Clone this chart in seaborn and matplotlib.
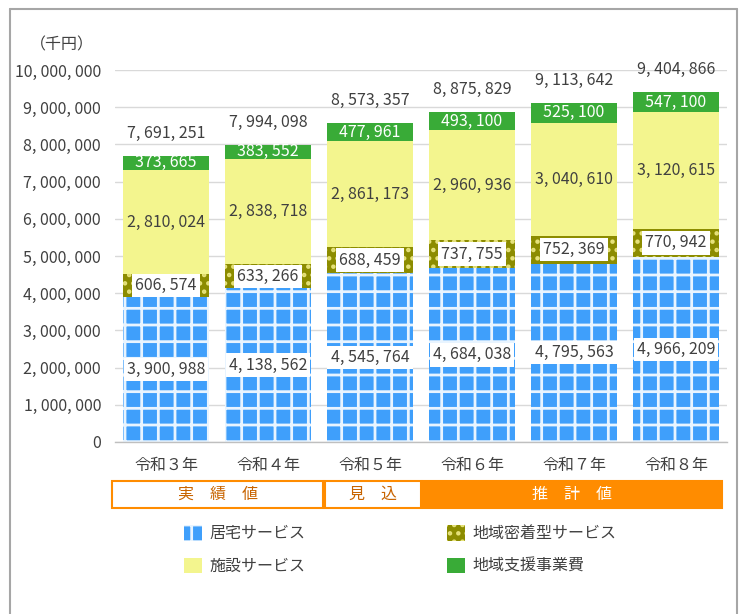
import matplotlib
matplotlib.use("Agg")
import matplotlib.pyplot as plt
from matplotlib.patches import Patch, Rectangle
from matplotlib.lines import Line2D
import numpy as np
import pandas as pd
import seaborn as sns

years = ["令和３年", "令和４年", "令和５年", "令和６年", "令和７年", "令和８年"]
kyotaku = [3900988, 4138562, 4545764, 4684038, 4795563, 4966209]
chiiki_mitchaku = [606574, 633266, 688459, 737755, 752369, 770942]
shisetsu = [2810024, 2838718, 2861173, 2960936, 3040610, 3120615]
chiiki_shien = [373665, 383552, 477961, 493100, 525100, 547100]
series_names = ["居宅サービス", "地域密着型サービス", "施設サービス", "地域支援事業費"]
yticks = list(range(0, 10000001, 1000000))
periods = [("実　績　値", False), ("見　込", False), ("推　計　値", True)]

sns.set_theme(style="white")
plt.rcParams["font.family"] = ["Noto Sans CJK JP", "DejaVu Sans"]
plt.rcParams["hatch.linewidth"] = 2.0

TXT = "#404040"
BLUE = "#3f9ffb"
OLIVE = "#8c8c00"
YELLOW = "#f3f58e"
GREEN = "#39ab37"
ORANGE = "#ff8c00"
FS = 11.5

def fmt(v):
    return f"{v:,}".replace(",", ", ")

layers = [kyotaku, chiiki_mitchaku, shisetsu, chiiki_shien]
cum = np.cumsum(np.array(layers), axis=0)
totals = cum[-1]

fig = plt.figure(figsize=(7.4, 6.14), dpi=100)
ax = fig.add_axes([115 / 740, 1 - 442 / 614, 612 / 740, 372 / 614])

styles = [
    dict(color=BLUE, hatch="+", hc="#e8f4ff"),
    dict(color=OLIVE, hatch="..", hc="#e6e27a"),
    dict(color=YELLOW, hatch=None, hc=None),
    dict(color=GREEN, hatch=None, hc=None),
]

# stacked bars: draw cumulative heights from the top layer down
for i in range(3, -1, -1):
    df = pd.DataFrame({"year": years, "value": cum[i]})
    n_before = len(ax.patches)
    sns.barplot(data=df, x="year", y="value", color=styles[i]["color"],
                saturation=1, width=0.84, ax=ax, linewidth=0, errorbar=None)
    for p in ax.patches[n_before:]:
        p.set_facecolor(styles[i]["color"])
        if styles[i]["hatch"]:
            p.set_hatch(styles[i]["hatch"])
            p.set_edgecolor(styles[i]["hc"])
            p.set_linewidth(0)

ax.set_ylim(0, 10000000)
ax.set_xlim(-0.5, 5.5)
ax.set_yticks(yticks)
ax.set_yticklabels([fmt(v) for v in yticks], fontsize=FS, color=TXT)
ax.tick_params(axis="x", labelsize=FS, colors=TXT, pad=11, length=0)
ax.tick_params(axis="y", length=0, pad=10)
ax.set_xlabel("")
ax.set_ylabel("")
ax.yaxis.grid(True, color="#d9d9d9", linewidth=1)
ax.set_axisbelow(True)
for s in ["top", "right", "left"]:
    ax.spines[s].set_visible(False)
ax.spines["bottom"].set_color("#bfbfbf")
ax.spines["bottom"].set_linewidth(1)

box = dict(boxstyle="square,pad=0.2", fc="white", ec="none")
for j in range(len(years)):
    ax.text(j, kyotaku[j] / 2, fmt(kyotaku[j]), ha="center", va="center", fontsize=FS,
            color=TXT, bbox=box)
    ax.text(j, cum[0][j] + chiiki_mitchaku[j] / 2, fmt(chiiki_mitchaku[j]), ha="center",
            va="center", fontsize=FS, color=TXT, bbox=box)
    ax.text(j, cum[1][j] + shisetsu[j] / 2, fmt(shisetsu[j]), ha="center", va="center",
            fontsize=FS, color=TXT)
    ax.text(j, cum[2][j] + chiiki_shien[j] / 2, fmt(chiiki_shien[j]), ha="center",
            va="center", fontsize=FS, color="white")
    ax.text(j, totals[j] + 600000, fmt(int(totals[j])), ha="center", va="center",
            fontsize=FS, color=TXT)

fig.text(30 / 740, 1 - 45 / 614, "（千円）", fontsize=FS, color=TXT, ha="left", va="center")

# period boxes under the category axis
y0 = 1 - 508 / 614
h = 27 / 614
bounds = [(112, 323), (325, 421), (423, 722)]
for (label, filled), (xl, xr) in zip(periods, bounds):
    r = Rectangle((xl / 740, y0), (xr - xl) / 740, h, transform=fig.transFigure,
                  facecolor=ORANGE if filled else "white", edgecolor=ORANGE,
                  linewidth=1.5, clip_on=False)
    fig.patches.append(r)
    fig.text((xl + xr) / 2 / 740, y0 + h / 2, label, ha="center", va="center",
             fontsize=FS, color="white" if filled else "#c86400")

# legend
handles = [
    Patch(facecolor=BLUE, hatch="+", edgecolor="#e8f4ff", linewidth=0, label=series_names[0]),
    Patch(facecolor=YELLOW, linewidth=0, label=series_names[2]),
    Patch(facecolor=OLIVE, hatch="..", edgecolor="#e6e27a", linewidth=0, label=series_names[1]),
    Patch(facecolor=GREEN, linewidth=0, label=series_names[3]),
]
leg = fig.legend(handles=handles, ncol=2, loc="upper left",
                 bbox_to_anchor=(170 / 740, 1 - 511 / 614), frameon=False,
                 fontsize=FS, handlelength=1.1, handleheight=1.1, handletextpad=0.45,
                 columnspacing=8.9, labelspacing=0.95, labelcolor=TXT)

# outer frame
for xs, ys in [([10 / 740, 10 / 740], [0, 1 - 9 / 614]),
               ([10 / 740, 737 / 740], [1 - 9 / 614, 1 - 9 / 614]),
               ([737 / 740, 737 / 740], [1 - 9 / 614, 0])]:
    fig.lines.append(Line2D(xs, ys, transform=fig.transFigure, color="#a6a6a6", linewidth=1.5))

fig.savefig("out.png", dpi=100, facecolor="white")
